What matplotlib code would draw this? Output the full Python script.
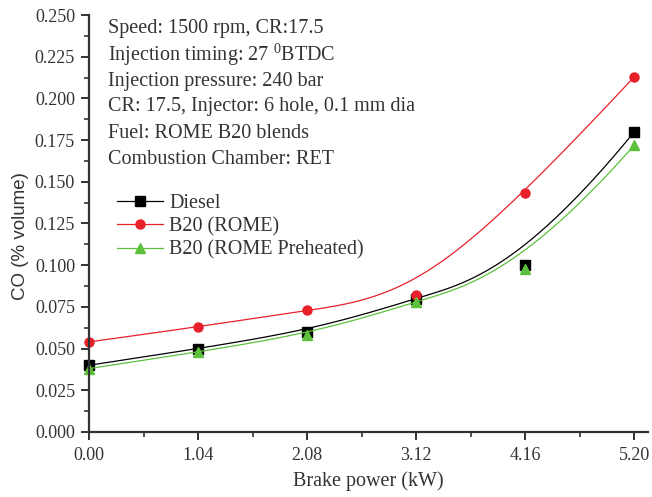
import matplotlib.pyplot as plt
import numpy as np
from matplotlib.ticker import MultipleLocator, FormatStrFormatter

brake_power = [0.00, 1.04, 2.08, 3.12, 4.16, 5.20]
co_diesel = [0.040, 0.050, 0.060, 0.080, 0.100, 0.180]
co_b20 = [0.054, 0.063, 0.073, 0.082, 0.143, 0.213]
co_b20_pre = [0.038, 0.048, 0.058, 0.078, 0.098, 0.172]

notes = ['Speed: 1500 rpm, CR:17.5',
         r'Injection timing: 27 $^{\mathregular{0}}$BTDC',
         'Injection pressure: 240 bar',
         'CR: 17.5, Injector: 6 hole, 0.1 mm dia',
         'Fuel: ROME B20 blends',
         'Combustion Chamber: RET']


def bspline(px, py, n=300, k=3):
    # clamped uniform B-spline with the data points as control points (Origin style)
    px = np.asarray(px, float)
    py = np.asarray(py, float)
    m = len(px)
    knots = np.concatenate([np.zeros(k), np.linspace(0, 1, m - k + 1), np.ones(k)])
    t = np.linspace(0, 1, n)
    t[-1] = 1 - 1e-9
    # Cox-de Boor recursion
    B = np.zeros((n, len(knots) - 1))
    for i in range(len(knots) - 1):
        B[:, i] = (knots[i] <= t) & (t < knots[i + 1])
    for d in range(1, k + 1):
        Bn = np.zeros((n, len(knots) - 1 - d))
        for i in range(len(knots) - 1 - d):
            a = 0.0
            b = 0.0
            if knots[i + d] != knots[i]:
                a = (t - knots[i]) / (knots[i + d] - knots[i]) * B[:, i]
            if knots[i + d + 1] != knots[i + 1]:
                b = (knots[i + d + 1] - t) / (knots[i + d + 1] - knots[i + 1]) * B[:, i + 1]
            Bn[:, i] = a + b
        B = Bn
    return B @ px, B @ py


plt.rcParams['font.family'] = ['Liberation Serif', 'DejaVu Serif']
plt.rcParams['mathtext.fontset'] = 'custom'
plt.rcParams['mathtext.rm'] = 'Liberation Serif'

fig = plt.figure(figsize=(6.52, 4.97), dpi=100)
ax = fig.add_axes([89 / 652, 65 / 497, 559 / 652, 417 / 497])

series = [(co_diesel, 'black', 's', 'Diesel'),
          (co_b20, '#e8202a', 'o', 'B20 (ROME)'),
          (co_b20_pre, '#5cc13c', '^', 'B20 (ROME Preheated)')]

for vals, col, mk, lab in series:
    sx, sy = bspline(brake_power, vals)
    ax.plot(sx, sy, color=col, lw=0.9)
    ax.plot(brake_power, vals, linestyle='none', marker=mk, color=col, ms=6.5, clip_on=False)
    ax.plot([], [], color=col, lw=0.9, marker=mk, ms=6.5, label=lab)

ax.set_xlim(0, 5.33)
ax.set_ylim(0, 0.25)
ax.set_xticks(brake_power)
ax.xaxis.set_major_formatter(FormatStrFormatter('%.2f'))
ax.xaxis.set_minor_locator(MultipleLocator(0.52))
ax.yaxis.set_major_locator(MultipleLocator(0.025))
ax.yaxis.set_minor_locator(MultipleLocator(0.0125))
ax.yaxis.set_major_formatter(FormatStrFormatter('%.3f'))

for s in ['top', 'right']:
    ax.spines[s].set_visible(False)
for s in ['left', 'bottom']:
    ax.spines[s].set_linewidth(1.6)
    ax.spines[s].set_color('#333333')

ax.tick_params(which='major', direction='out', length=6, width=1.4, labelsize=13, colors='#333333')
ax.tick_params(which='minor', direction='out', length=3.5, width=1.2, colors='#333333')
ax.tick_params(axis='x', pad=5)
ax.tick_params(axis='y', pad=4)

ax.set_xlabel('Brake power (kW)', fontsize=14.5, color='#333333', labelpad=5)
ax.set_ylabel('CO (% volume)', fontsize=13.5, color='#333333',
              family=['Liberation Sans', 'DejaVu Sans'])
ax.yaxis.set_label_coords(-0.108, 0.47)

for i, txt in enumerate(notes):
    fig.text(108 / 652, 1 - (29 + 26 * i) / 497, txt, fontsize=14.5, color='#333333', va='center')

leg = ax.legend(loc='upper left', bbox_to_anchor=(20 / 559, 1 - 171 / 417), frameon=False,
                fontsize=14.5, handlelength=2.3, labelspacing=0.2, handletextpad=0.3,
                borderaxespad=0, labelcolor='#333333')

fig.savefig('out.png', dpi=100)
